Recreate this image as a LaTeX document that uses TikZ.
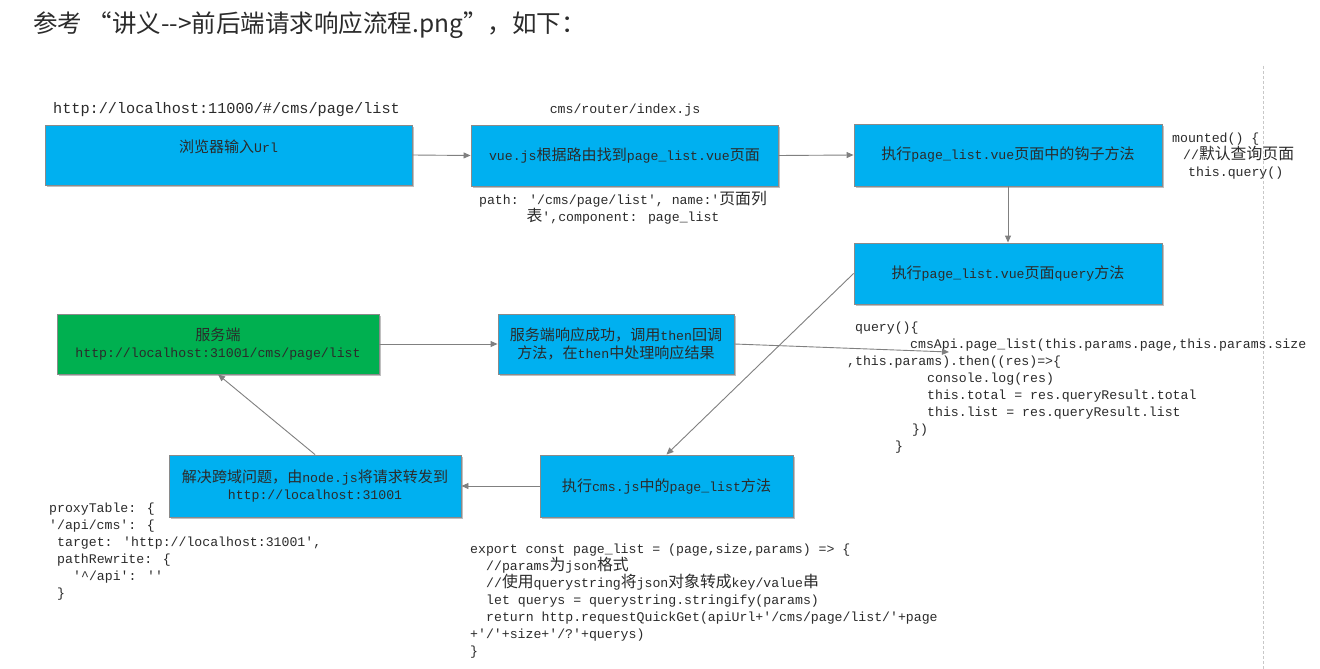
\documentclass[tikz,border=0pt]{standalone}
\usepackage{fontspec}
\usetikzlibrary{arrows.meta,shadows}
\newfontfamily\codefont{Liberation Mono}
\newfontfamily\cjkfont[Scale=1.2]{Noto Sans CJK SC}
\newfontfamily\boxcjkfont[Scale=1.14]{Noto Sans CJK SC}
\newfontfamily\titlefont{Noto Sans CJK SC}
\newcommand\zh[1]{{\cjkfont #1}}
\newcommand\bz[1]{{\boxcjkfont #1}}
\newcommand\fst{\rule{0pt}{12pt}}
\definecolor{boxblue}{HTML}{00B0F0}
\definecolor{boxgreen}{HTML}{00B050}
\definecolor{edgegray}{HTML}{8A8A8A}
\definecolor{arrowgray}{HTML}{808080}
\definecolor{txt}{HTML}{2B2B2B}
\definecolor{dashgray}{HTML}{C8C8C8}
\tikzset{
  box/.style={draw=edgegray, line width=0.9pt, fill=boxblue, inner sep=0pt,
    font=\codefont\fontsize{13.2}{17.5}\selectfont, text=txt, align=center,
    drop shadow={shadow xshift=1.5pt, shadow yshift=-1.5pt, opacity=0.25, fill=black}},
  greenbox/.style={box, fill=boxgreen},
  link/.style={draw=arrowgray, line width=0.9pt, -{Triangle[length=7pt,width=6pt]}},
  codeblk/.style={font=\codefont\fontsize{13.2}{17}\selectfont, text=txt, align=left,
    inner sep=0pt, anchor=north west},
  lbl/.style={font=\codefont\fontsize{13.2}{17}\selectfont, text=txt, align=center, inner sep=0pt},
}
\begin{document}
\begin{tikzpicture}[x=1pt,y=-1pt]
\useasboundingbox (0,0) rectangle (1320,669);
\fill[white] (0,0) rectangle (1320,669);

% title
\node[anchor=west, inner sep=0pt, font=\titlefont\fontsize{24.5}{28}\selectfont, text=txt] (title) at (33,25)
  {参考 “讲义-\kern0pt-\kern0pt>前后端请求响应流程.png”，如下：};

% dashed vertical line
\coordinate (dtop) at (1263.5,66);
\coordinate (dbot) at (1263.5,669);
\draw[dashgray, line width=0.9pt, dash pattern=on 3pt off 2pt] (dtop) -- (dbot);

% boxes
\node[box, minimum width=367pt, minimum height=60pt] (b1) at (228.5,155) {\bz{浏览器输入}Url\\\mbox{}};
\node[box, minimum width=307pt, minimum height=61pt] (b2) at (624.5,155.5) {vue.js\bz{根据路由找到}page\_list.vue\bz{页面}};
\node[box, minimum width=308pt, minimum height=62pt] (b3) at (1008,155) {\bz{执行}page\_list.vue\bz{页面中的钩子方法}};
\node[box, minimum width=308pt, minimum height=61pt] (b4) at (1008,273.5) {\bz{执行}page\_list.vue\bz{页面}query\bz{方法}};
\node[greenbox, minimum width=322pt, minimum height=60pt] (b5) at (218,344) {\bz{服务端}\\http://localhost:31001/cms/page/list};
\node[box, minimum width=236pt, minimum height=60pt] (b6) at (616,344) {\bz{服务端响应成功，调用}then\bz{回调}\\\bz{方法，在}then\bz{中处理响应结果}};
\node[box, minimum width=253pt, minimum height=62pt] (b7) at (666.5,486) {\bz{执行}cms.js\bz{中的}page\_list\bz{方法}};
\node[box, minimum width=292pt, minimum height=62pt] (b8) at (315,486) {\bz{解决跨域问题，由}node.js\bz{将请求转发到}\\http://localhost:31001};

% labels
\node[anchor=west, inner sep=0pt, font=\codefont\fontsize{15.2}{18}\selectfont, text=txt] (url) at (53,110) {http://localhost:11000/\#/cms/page/list};
\node[lbl] (router) at (625,110) {cms/router/index.js};
\node[lbl] (path) at (623,207.5) {path: '/cms/page/list', name:'\zh{页面列}\\\zh{表}',component: page\_list};

% code blocks
\node[codeblk] (mounted) at (1172,130.5) {\fst mounted() \{\\
\hspace*{11pt}//\zh{默认查询页面}\\
\hspace*{16pt}this.query()};

\node[codeblk] (querycode) at (847,319.5) {\fst\hspace*{8pt}query()\{\\
\hspace*{63pt}cmsApi.page\_list(this.params.page,this.params.size\\
,this.params).then((res)=>\{\\
\hspace*{80pt}console.log(res)\\
\hspace*{80pt}this.total = res.queryResult.total\\
\hspace*{80pt}this.list = res.queryResult.list\\
\hspace*{65pt}\})\\
\hspace*{48pt}\}};

\node[codeblk] (proxy) at (49,500.5) {\fst proxyTable: \{\\
'/api/cms': \{\\
\hspace*{8pt}target: 'http://localhost:31001',\\
\hspace*{8pt}pathRewrite: \{\\
\hspace*{24pt}'\textasciicircum/api': ''\\
\hspace*{8pt}\}};

\node[codeblk] (export) at (470,541.5) {\fst export const page\_list = (page,size,params) => \{\\
\hspace*{16pt}//params\zh{为}json\zh{格式}\\
\hspace*{16pt}//\zh{使用}querystring\zh{将}json\zh{对象转成}key/value\zh{串}\\
\hspace*{16pt}let querys = querystring.stringify(params)\\
\hspace*{16pt}return http.requestQuickGet(apiUrl+'/cms/page/list/'+page\\
+'/'+size+'/?'+querys)\\
\}};

% connectors
\coordinate (qtip) at (949,352);
\draw[link] (b1.east) -- (b2.west);
\draw[link] (b2.east) -- (b3.west);
\draw[link] (b3.south) -- (b4.north);
\draw[link] (b4.west) -- (b7.north);
\draw[link] (b7.west) -- (b8.east);
\draw[link] (b8.north) -- (b5.south);
\draw[link] (b5.east) -- (b6.west);
\draw[link] (b6.east) -- (qtip);
\end{tikzpicture}
\end{document}
